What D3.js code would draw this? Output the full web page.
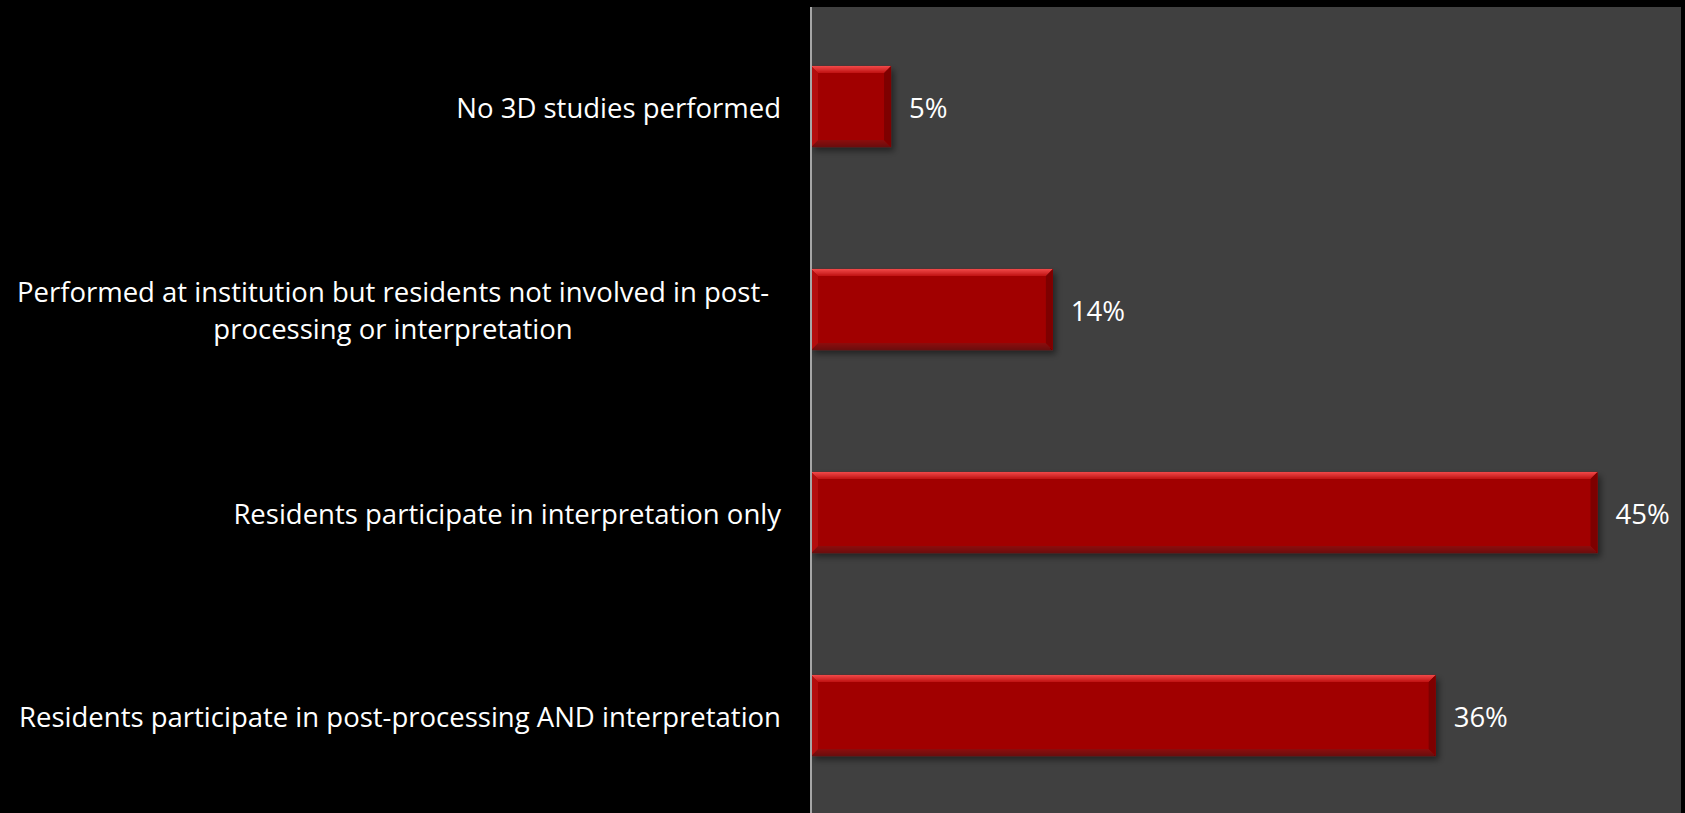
<!DOCTYPE html>
<html>
<head>
<meta charset="utf-8">
<script src="https://cdn.jsdelivr.net/npm/d3@7"></script>
<style>
  html, body { margin: 0; padding: 0; background: #000; }
  svg { display: block; }
</style>
</head>
<body>
<svg id="chart" width="1685" height="813"></svg>
<script>
// categories (top to bottom), each split into its display lines
const categories = [
    ["No 3D studies performed"],
    ["Performed at institution but residents not involved in post-", "processing or interpretation"],
    ["Residents participate in interpretation only"],
    ["Residents participate in post-processing AND interpretation"]
];
// share of programs
const values = [0.046, 0.139, 0.452, 0.359];

const W = 1685, H = 813;
const plot = {left: 811, right: 1681, top: 7, bottom: 813};
const font = "'Open Sans', sans-serif";
const fontSize = 27.5;

const svg = d3.select("#chart");

const x = d3.scaleLinear().domain([0, 0.5]).range([plot.left, plot.right]);
const y = d3.scaleBand()
    .domain(d3.range(categories.length))
    .range([5, 817])
    .paddingInner(0.6)
    .paddingOuter(0.3);

const fmt = d3.format(".0%");

// defs: gradients + shadow
const defs = svg.append("defs");
const topGrad = defs.append("linearGradient").attr("id", "topBevel")
    .attr("x1", 0).attr("y1", 0).attr("x2", 0).attr("y2", 1);
topGrad.append("stop").attr("offset", "0%").attr("stop-color", "#f24a4a");
topGrad.append("stop").attr("offset", "100%").attr("stop-color", "#c01414");
const botGrad = defs.append("linearGradient").attr("id", "botBevel")
    .attr("x1", 0).attr("y1", 0).attr("x2", 0).attr("y2", 1);
botGrad.append("stop").attr("offset", "0%").attr("stop-color", "#8c0a0a");
botGrad.append("stop").attr("offset", "100%").attr("stop-color", "#6a0707");
const shadow = defs.append("filter").attr("id", "shadow")
    .attr("x", "-5%").attr("y", "-20%").attr("width", "115%").attr("height", "160%");
shadow.append("feDropShadow").attr("dx", 3).attr("dy", 4).attr("stdDeviation", 3)
    .attr("flood-color", "#000").attr("flood-opacity", 0.45);

// plot background
svg.append("rect")
    .attr("x", plot.left).attr("y", plot.top)
    .attr("width", plot.right - plot.left).attr("height", plot.bottom - plot.top)
    .attr("fill", "#404040");

// bars
const bars = svg.selectAll(".bar")
    .data(values)
    .enter()
    .append("g")
    .attr("class", "bar")
    .attr("filter", "url(#shadow)");

const b = 7; // bevel size
bars.append("rect")
    .attr("x", x(0))
    .attr("y", (d, i) => y(i))
    .attr("width", d => x(d) - x(0))
    .attr("height", y.bandwidth())
    .attr("fill", "#a10606");

// top bevel
bars.append("polygon")
    .attr("points", (d, i) => {
        const x0 = x(0), x1 = x(d), y0 = y(i);
        return [[x0, y0], [x1, y0], [x1 - b, y0 + b], [x0 + b, y0 + b]].join(" ");
    })
    .attr("fill", "url(#topBevel)");
// bottom bevel
bars.append("polygon")
    .attr("points", (d, i) => {
        const x0 = x(0), x1 = x(d), y1 = y(i) + y.bandwidth();
        return [[x0, y1], [x1, y1], [x1 - b, y1 - b], [x0 + b, y1 - b]].join(" ");
    })
    .attr("fill", "url(#botBevel)");
// right bevel
bars.append("polygon")
    .attr("points", (d, i) => {
        const x1 = x(d), y0 = y(i), y1 = y(i) + y.bandwidth();
        return [[x1, y0], [x1, y1], [x1 - b, y1 - b], [x1 - b, y0 + b]].join(" ");
    })
    .attr("fill", "#7e0505");
// left bevel
bars.append("polygon")
    .attr("points", (d, i) => {
        const x0 = x(0), y0 = y(i), y1 = y(i) + y.bandwidth();
        return [[x0, y0], [x0, y1], [x0 + b, y1 - b], [x0 + b, y0 + b]].join(" ");
    })
    .attr("fill", "#b30c0c");

// value labels
svg.selectAll(".val")
    .data(values)
    .enter()
    .append("text")
    .attr("class", "val")
    .attr("x", d => x(d) + 18)
    .attr("y", (d, i) => y(i) + y.bandwidth() / 2)
    .attr("dy", "0.4em")
    .attr("fill", "#fff")
    .attr("font-family", font)
    .attr("font-size", fontSize)
    .text(d => fmt(d));

// vertical axis line
svg.append("line")
    .attr("x1", plot.left).attr("x2", plot.left)
    .attr("y1", plot.top).attr("y2", plot.bottom)
    .attr("stroke", "#a6a6a6").attr("stroke-width", 2);

// category labels
const lineH = 37;
const labels = svg.selectAll(".cat")
    .data(categories)
    .enter()
    .append("text")
    .attr("class", "cat")
    .attr("fill", "#fff")
    .attr("font-family", font)
    .attr("font-size", fontSize);

labels.each(function(lines, i) {
    const t = d3.select(this);
    const cy = y(i) + y.bandwidth() / 2;
    const single = lines.length === 1;
    lines.forEach((ln, k) => {
        t.append("tspan")
            .attr("x", single ? 781 : 393)
            .attr("text-anchor", single ? "end" : "middle")
            .attr("y", cy + (k - (lines.length - 1) / 2) * lineH)
            .attr("dy", "0.4em")
            .text(ln);
    });
});
</script>
</body>
</html>
